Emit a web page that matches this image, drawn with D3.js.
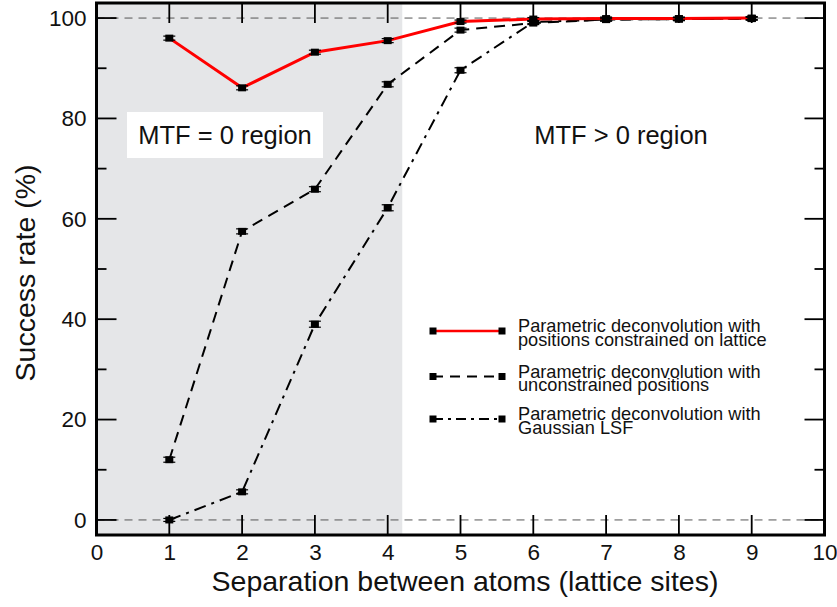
<!DOCTYPE html>
<html><head><meta charset="utf-8">
<script src="https://cdn.jsdelivr.net/npm/d3@7"></script>
<style>body{margin:0;background:#fff}svg{font-family:"Liberation Sans",Arial,sans-serif}</style>
</head><body>
<svg id="c" width="837" height="607"></svg>
<script>
const separations = [1,2,3,4,5,6,7,8,9];
const constrainedVals = [96.0,86.1,93.2,95.5,99.3,99.8,99.9,99.9,100];
const unconstrainedVals = [12.0,57.5,65.9,86.8,97.6,99.0,99.7,99.8,99.9];
const gaussianVals = [0.0,5.6,39.0,62.2,89.6,99.2,99.7,99.8,99.9];
const errConstrained = [0.4,0.4,0.4,0.4,0.3,0.2,0.2,0.2,0.1];
const errUnconstrained = [0.5,0.5,0.5,0.5,0.4,0.3,0.2,0.2,0.1];
const errGaussian = [0.1,0.4,0.6,0.6,0.5,0.3,0.2,0.2,0.1];
const xTicks = [0,1,2,3,4,5,6,7,8,9,10];
const yTicks = [0,20,40,60,80,100];
const yMinor = [10,30,50,70,90];
const legendLabels = [["Parametric deconvolution with","positions constrained on lattice"],["Parametric deconvolution with","unconstrained positions"],["Parametric deconvolution with","Gaussian LSF"]];
const mtfZeroLimit = 4.2;

(function(){
const svg = d3.select("#c");
const L=96.5,R=824.5,T=3,B=535;
const x = d3.scaleLinear().domain([0,10]).range([L,R]);
const y = d3.scaleLinear().domain([-3,103]).range([B,T]);
const TXT="#111";

svg.append("rect").attr("x",L).attr("y",T).attr("width",x(mtfZeroLimit)-L).attr("height",B-T).attr("fill","#e5e6e8");

[0,100].forEach(v=>{
  svg.append("line").attr("x1",L).attr("x2",R).attr("y1",y(v)).attr("y2",y(v))
    .attr("stroke","#555").attr("stroke-width",1).attr("stroke-dasharray","8,6");
});

const axB = d3.axisBottom(x).tickValues(xTicks).tickSize(0).tickPadding(0).tickFormat(d3.format("d"));
const axL = d3.axisLeft(y).tickValues(yTicks).tickSize(0).tickPadding(10).tickFormat(d3.format("d"));
function styleAx(sel){sel.select(".domain").remove();sel.selectAll("line").remove();sel.selectAll("text").attr("font-size",22.5).attr("fill",TXT).attr("font-family","Liberation Sans, Arial, sans-serif");}
svg.append("g").attr("transform",`translate(0,${B})`).call(axB).call(styleAx).selectAll("text").attr("dy",null).attr("y",25);
svg.append("g").attr("transform",`translate(${L},0)`).call(axL).call(styleAx);

svg.append("rect").attr("x",127).attr("y",112).attr("width",196).attr("height",46).attr("fill","#fff");
svg.append("text").attr("x",225).attr("y",144).attr("text-anchor","middle").attr("font-size",25.5).attr("fill",TXT).text("MTF = 0 region");
svg.append("text").attr("x",621).attr("y",144).attr("text-anchor","middle").attr("font-size",25.5).attr("fill",TXT).text("MTF > 0 region");

const series = [
  {vals:gaussianVals, err:errGaussian, color:"#000", w:2, dash:"12,6,3,6"},
  {vals:unconstrainedVals, err:errUnconstrained, color:"#000", w:2, dash:"11,7"},
  {vals:constrainedVals, err:errConstrained, color:"#f00", w:3, dash:null},
];
const line = d3.line().x((d,i)=>x(separations[i])).y(d=>y(d));
series.forEach(s=>{
  svg.append("path").datum(s.vals).attr("d",line).attr("fill","none").attr("stroke",s.color)
    .attr("stroke-width",s.w).attr("stroke-dasharray",s.dash);
});
series.forEach(s=>{
  const gg = svg.append("g");
  s.vals.forEach((v,i)=>{
    const cx=x(separations[i]);
    const e=Math.max(s.err[i],0.3);
    [v-e,v+e].forEach(ev=>gg.append("line").attr("x1",cx-6).attr("x2",cx+6).attr("y1",y(ev)).attr("y2",y(ev)).attr("stroke","#000").attr("stroke-width",1.2));
    gg.append("line").attr("x1",cx).attr("x2",cx).attr("y1",y(v-e)).attr("y2",y(v+e)).attr("stroke","#000").attr("stroke-width",1.2);
    gg.append("rect").attr("x",cx-4).attr("y",y(v)-3.5).attr("width",8).attr("height",7).attr("fill","#000");
  });
});

svg.append("rect").attr("x",L).attr("y",T).attr("width",R-L).attr("height",B-T).attr("fill","none").attr("stroke","#000").attr("stroke-width",3);

// tick marks as thin filled rects (inward, all four sides)
const tg = svg.append("g").attr("fill","#000");
xTicks.forEach(d=>{const px=x(d);
  tg.append("rect").attr("x",px-0.9).attr("y",B-20).attr("width",1.8).attr("height",20);
  tg.append("rect").attr("x",px-0.9).attr("y",T).attr("width",1.8).attr("height",20);});
yTicks.forEach(d=>{const py=y(d);
  tg.append("rect").attr("x",L).attr("y",py-0.9).attr("width",20).attr("height",1.8);
  tg.append("rect").attr("x",R-20).attr("y",py-0.9).attr("width",20).attr("height",1.8);});
yMinor.forEach(d=>{const py=y(d);
  tg.append("rect").attr("x",L).attr("y",py-0.9).attr("width",10).attr("height",1.8);
  tg.append("rect").attr("x",R-10).attr("y",py-0.9).attr("width",10).attr("height",1.8);});

svg.append("text").attr("x",465).attr("y",591).attr("text-anchor","middle").attr("font-size",28.5).attr("fill",TXT).text("Separation between atoms (lattice sites)");
svg.append("text").attr("transform","translate(35,273) rotate(-90)").attr("text-anchor","middle").attr("font-size",28.5).attr("fill",TXT).text("Success rate (%)");

const legStyles = [series[2],series[1],series[0]];
const legY = [331,376.5,419];
legStyles.forEach((s,i)=>{
  const ly=legY[i];
  svg.append("line").attr("x1",433).attr("x2",502).attr("y1",ly).attr("y2",ly).attr("stroke",s.color).attr("stroke-width",s.w===3?2.5:2).attr("stroke-dasharray",s.dash?(i===1?"10,7":"10,5,3,5"):null);
  [433,502].forEach(mx=>svg.append("rect").attr("x",mx-3.5).attr("y",ly-3.5).attr("width",7).attr("height",7).attr("fill","#000"));
  const t = svg.append("text").attr("x",518).attr("y",ly+1).attr("font-size",18.2).attr("fill",TXT);
  t.append("tspan").attr("x",518).attr("dy",0).text(legendLabels[i][0]);
  t.append("tspan").attr("x",518).attr("dy",13.5).text(legendLabels[i][1]);
});
})();
</script>
</body></html>
